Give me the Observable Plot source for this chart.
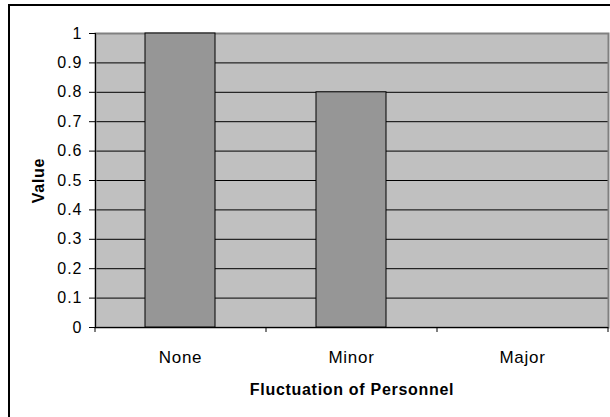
<!DOCTYPE html>
<html>
<head>
<meta charset="utf-8">
<script src="https://cdn.jsdelivr.net/npm/d3@7"></script>
<script src="https://cdn.jsdelivr.net/npm/@observablehq/plot@0.6"></script>
<style>
  html, body { margin: 0; padding: 0; background: #fff; overflow: hidden; width: 610px; height: 417px; }
  #border { position: absolute; left: 8px; top: 4px; width: 700px; height: 600px; border: 2px solid #000; box-sizing: border-box; }
  #chart { position: absolute; left: 0; top: 0; }
  #chart svg text { letter-spacing: 0.7px; }
  #chart svg g[aria-label="y-axis tick label"] text { letter-spacing: 1px; }
</style>
</head>
<body>
<div id="border"></div>
<div id="chart"></div>
<script>
const categories = ["None", "Minor", "Major"];
const values = [1, 0.8, 0];
const yTicks = [0, 0.1, 0.2, 0.3, 0.4, 0.5, 0.6, 0.7, 0.8, 0.9, 1];
const xTitle = "Fluctuation of Personnel";
const yTitle = "Value";

const data = categories.map((c, i) => ({category: c, value: values[i]}));

const base = {
  width: 610,
  height: 417,
  marginLeft: 95,
  marginRight: 2,
  marginTop: 33,
  marginBottom: 90,
  style: {fontFamily: "'Liberation Sans', Arial, sans-serif", background: "transparent", color: "#000", overflow: "visible"},
  x: {domain: categories, paddingInner: 0.59, paddingOuter: 0.295},
  y: {domain: [0, 1]}
};

function build(step) {
  const marks = [
    Plot.frame({fill: "#c0c0c0"}),
    Plot.ruleY(yTicks, {filter: d => d > 0 && d < 1, stroke: "#000", strokeWidth: 1}),
    Plot.frame({stroke: "#808080", strokeWidth: 2}),
    Plot.barY(data, {x: "category", y: "value", fill: "#969696", stroke: "#000", strokeWidth: 1}),
    Plot.ruleY([0], {stroke: "#000", strokeWidth: 1}),
    Plot.frame({anchor: "left", stroke: "#000", strokeWidth: 1}),
    Plot.axisY({ticks: yTicks, tickFormat: d => String(d), tickSize: 6, tickPadding: 7, fontSize: 16, label: null, stroke: "#000"}),
    Plot.axisX({tickSize: 0, tickPadding: 23, fontSize: 17, label: null}),
    Plot.text([xTitle], {frameAnchor: "bottom", dy: 56, lineAnchor: "top", fontSize: 16, fontWeight: "bold", text: d => d}),
    Plot.text([yTitle], {frameAnchor: "left", dx: -57, rotate: -90, textAnchor: "middle", lineAnchor: "middle", fontSize: 16, fontWeight: "bold", text: d => d, style: "letter-spacing:1px"})
  ];
  if (step) {
    marks.push(Plot.ruleX(categories, {x: d => d, y1: 0, y2: 0, insetTop: 5, dx: -step / 2, stroke: "#000"}));
    marks.push(Plot.ruleX(categories.slice(-1), {x: d => d, y1: 0, y2: 0, insetTop: 5, dx: step / 2, stroke: "#000"}));
  }
  return Plot.plot({...base, marks});
}

const first = build(0);
const step = first.scale("x").step;
document.getElementById("chart").append(build(step));
</script>
</body>
</html>
